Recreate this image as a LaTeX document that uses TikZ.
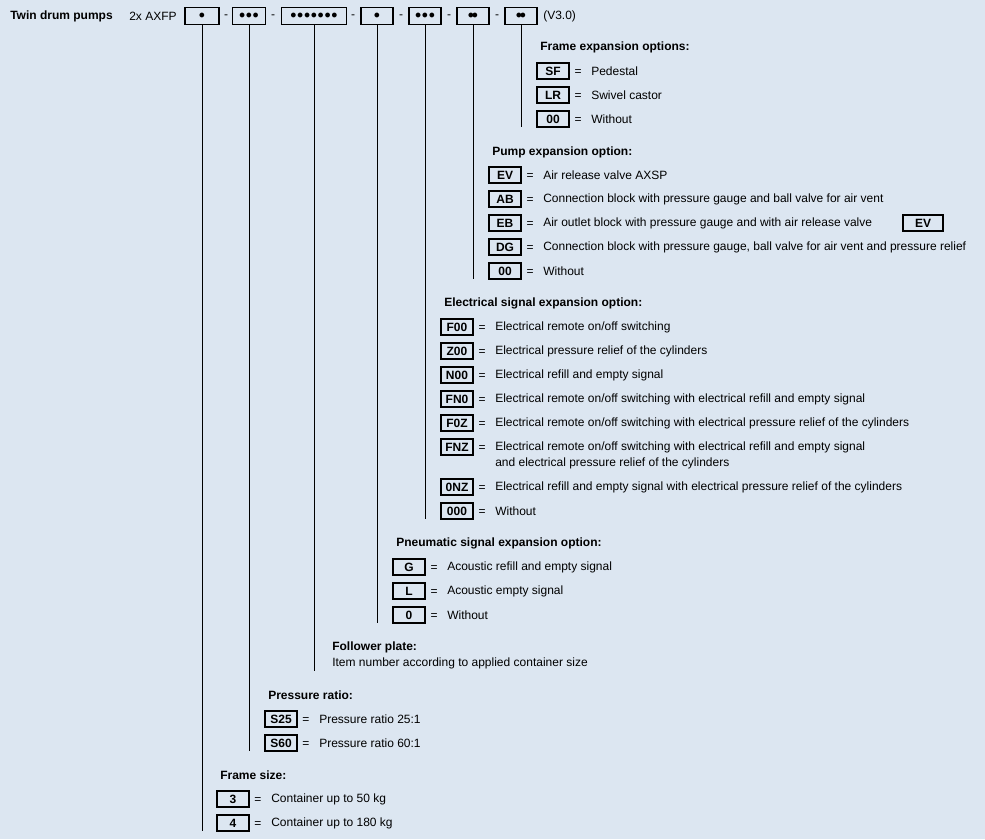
\documentclass[tikz,border=0pt]{standalone}
\usepackage{fontspec}
\setmainfont{Liberation Sans}
\begin{document}
\begin{tikzpicture}[x=0.75pt,y=-0.75pt,font=\fontsize{9}{11}\selectfont,
  hbox/.style={draw,line width=0.8pt,minimum width=#1*0.75pt,minimum height=17*0.75pt,inner sep=0pt,font=\fontsize{9}{11}\selectfont\bfseries},
  obox/.style={draw,line width=0.8pt,minimum width=32*0.75pt,minimum height=16*0.75pt,inner sep=0pt,font=\fontsize{9}{11}\selectfont\bfseries},
  ttl/.style={anchor=west,inner sep=0pt,font=\fontsize{9}{11}\selectfont\bfseries},
  txt/.style={anchor=west,inner sep=0pt,align=left},
  ln/.style={line width=0.7pt}]
\fill[fill={rgb,255:red,220;green,230;blue,241}] (0,0) rectangle (985,839);
\useasboundingbox (0,0) rectangle (985,839);
\newcommand{\bl}[1]{\raisebox{-0.8pt}{$\foreach \k in {1,...,#1}{\ifnum\k>1\mkern-3mu\fi\bullet}$}}
\node[ttl] (t) at (10,16) {Twin drum pumps};
\node[txt] (ax) at (129,16) {2x AXFP};
\node[hbox=34] (b1) at (202,16) {\bl{1}};
\node[hbox=33] (b2) at (249,16) {\bl{3}};
\node[hbox=65] (b3) at (314,16) {\bl{7}};
\node[hbox=32] (b4) at (377,16) {\bl{1}};
\node[hbox=32] (b5) at (425,16) {\bl{3}};
\node[hbox=32] (b6) at (473,16) {\bl{2}};
\node[hbox=32] (b7) at (521,16) {\bl{2}};
\foreach \x in {226,273,353,401,449,497} \node[inner sep=0pt] at (\x,17) {-};
\node[txt] (v) at (543,16) {(V3.0)};
\coordinate (e7) at (521,127); \coordinate (e6) at (473,279);
\coordinate (e5) at (425,519); \coordinate (e4) at (377,623);
\coordinate (e3) at (314,671); \coordinate (e2) at (249,751);
\coordinate (e1) at (202,831);
\foreach \i in {1,...,7} \draw[ln] (b\i.south) -- (b\i.south |- e\i);
\newcommand{\optrow}[4]{%
  \node[obox] at (#1,#2) {#3};
  \node[inner sep=0pt] at (#1+25,#2+1.5) {=};
  \node[txt] at (#1+38,#2) {#4};}
\node[ttl] at (540,47) {Frame expansion options:};
\optrow{553}{71}{SF}{Pedestal}
\optrow{553}{95}{LR}{Swivel castor}
\optrow{553}{119}{00}{Without}
\node[ttl] at (492,152) {Pump expansion option:};
\optrow{505}{175}{EV}{Air release valve AXSP}
\optrow{505}{199}{AB}{Connection block with pressure gauge and ball valve for air vent}
\optrow{505}{223}{EB}{Air outlet block with pressure gauge and with air release valve}
\node[obox,minimum width=40*0.75pt] at (923,223) {EV};
\optrow{505}{247}{DG}{Connection block with pressure gauge, ball valve for air vent and pressure relief}
\optrow{505}{271}{00}{Without}
\node[ttl] at (444,303) {Electrical signal expansion option:};
\optrow{457}{327}{F00}{Electrical remote on/off switching}
\optrow{457}{351}{Z00}{Electrical pressure relief of the cylinders}
\optrow{457}{375}{N00}{Electrical refill and empty signal}
\optrow{457}{399}{FN0}{Electrical remote on/off switching with electrical refill and empty signal}
\optrow{457}{423}{F0Z}{Electrical remote on/off switching with electrical pressure relief of the cylinders}
\optrow{457}{447}{FNZ}{Electrical remote on/off switching with electrical refill and empty signal}
\node[txt] at (495,463) {and electrical pressure relief of the cylinders};
\optrow{457}{487}{0NZ}{Electrical refill and empty signal with electrical pressure relief of the cylinders}
\optrow{457}{511}{000}{Without}
\node[ttl] at (396,543) {Pneumatic signal expansion option:};
\optrow{409}{567}{G}{Acoustic refill and empty signal}
\optrow{409}{591}{L}{Acoustic empty signal}
\optrow{409}{615}{0}{Without}
\node[ttl] at (332,647) {Follower plate:};
\node[txt] at (332,663) {Item number according to applied container size};
\node[ttl] at (268,695) {Pressure ratio:};
\optrow{281}{719}{S25}{Pressure ratio 25:1}
\optrow{281}{743}{S60}{Pressure ratio 60:1}
\node[ttl] at (220,775) {Frame size:};
\optrow{233}{799}{3}{Container up to 50 kg}
\optrow{233}{823}{4}{Container up to 180 kg}
\end{tikzpicture}
\end{document}
